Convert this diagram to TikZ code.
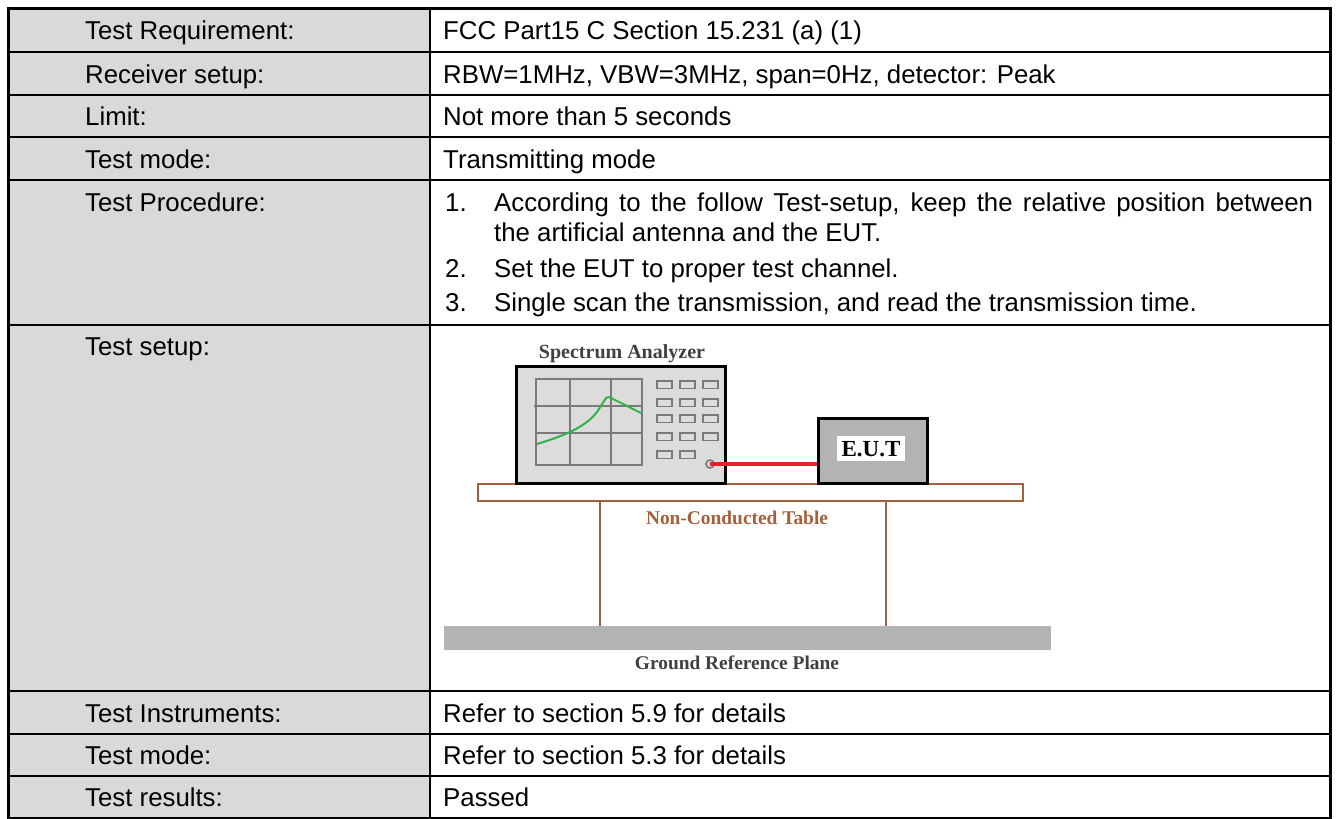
\documentclass[tikz,border=0pt]{standalone}
\usepackage{fontspec}
\setmainfont{Liberation Sans}
\newfontfamily\serifb{Liberation Serif}
\definecolor{labelgray}{HTML}{D9D9D9}
\definecolor{boxgray}{HTML}{DCDCDC}
\definecolor{darkgray}{HTML}{B3B3B3}
\definecolor{gridgray}{HTML}{7A7A7A}
\definecolor{tablebrown}{HTML}{A5603B}
\definecolor{txtgray}{HTML}{404040}
\definecolor{curvegreen}{HTML}{2FB24A}
\definecolor{cablered}{HTML}{E8202A}
\tikzset{
  cell/.style={inner sep=0pt, anchor=base west, font=\fontsize{25.8}{30}\selectfont},
  diag/.style={inner sep=0pt, anchor=base, font=\serifb\bfseries\fontsize{19.4}{22}\selectfont},
  btn/.style={draw=gridgray, line width=1.6pt, fill=boxgray},
  gridline/.style={draw=gridgray, line width=2pt},
  brown/.style={draw=tablebrown, line width=2pt}
}
\begin{document}
\begin{tikzpicture}[x=1pt,y=-1pt]
\useasboundingbox (0,0) rectangle (1336,819);
% table background
\fill[labelgray] (8,8) rectangle (430,818);
% inner lines
\foreach \yy in {52,95,137,180,325,691,734,776}
  \draw[line width=2pt] (8,\yy) -- (1330,\yy);
\draw[line width=2pt] (430,8) -- (430,818);
\draw[line width=3pt] (8,8) rectangle (1330,818);
% left labels
\node[cell] (l1) at (85,39.3) {Test Requirement:};
\node[cell] (l2) at (85,83) {Receiver setup:};
\node[cell] (l3) at (85,125.5) {Limit:};
\node[cell] (l4) at (85,168) {Test mode:};
\node[cell] (l5) at (85,211) {Test Procedure:};
\node[cell] (l6) at (85,355) {Test setup:};
\node[cell] (l7) at (85,722) {Test Instruments:};
\node[cell] (l8) at (85,764.5) {Test mode:};
\node[cell] (l9) at (85,806.5) {Test results:};
% right texts
\node[cell] (r1) at (443,39.3) {FCC Part15 C Section 15.231 (a) (1)};
\node[cell] (r2) at (443,83) {RBW=1MHz, VBW=3MHz, span=0Hz, detector: Peak};
\node[cell] (r3) at (443,125.5) {Not more than 5 seconds};
\node[cell] (r4) at (443,168) {Transmitting mode};
\node[cell] (n1) at (445,211) {1.};
\node[cell] (p1a) at (494,211) {\makebox[819pt][s]{According to the follow Test-setup, keep the relative position between}};
\node[cell] (p1b) at (494,241) {the artificial antenna and the EUT.};
\node[cell] (n2) at (445,277) {2.};
\node[cell] (p2) at (494,277) {Set the EUT to proper test channel.};
\node[cell] (n3) at (445,311) {3.};
\node[cell] (p3) at (494,311) {Single scan the transmission, and read the transmission time.};
\node[cell] (r7) at (443,722) {Refer to section 5.9 for details};
\node[cell] (r8) at (443,764.5) {Refer to section 5.3 for details};
\node[cell] (r9) at (443,806.5) {Passed};
% ---- test setup diagram ----
% ground plane
\fill[darkgray] (444,626) rectangle (1051,650);
% table legs and top
\draw[brown] (600,501) -- (600,626);
\draw[brown] (886,501) -- (886,626);
\draw[brown, fill=white] (478,484) rectangle (1023,501);
% spectrum analyzer
\draw[line width=3pt, fill=boxgray] (516,366) rectangle (725,483);
\draw[gridline] (536,379) rectangle (642,465);
\draw[gridline] (570,379) -- (570,465);
\draw[gridline] (611,379) -- (611,465);
\draw[gridline] (534,406) -- (642,406);
\draw[gridline] (536,433) -- (642,433);
\draw[draw=curvegreen, line width=2pt, line join=round]
  (537,444) .. controls (560,437) and (585,428) .. (597,412)
  -- (606,398) -- (609,397) -- (641,413);
% buttons
\foreach \yy in {381,399,415,433}
  \foreach \xx in {657,680,703}
    \draw[btn] (\xx,\yy) rectangle ++(15,7.5);
\foreach \xx in {657,680}
  \draw[btn] (\xx,451) rectangle ++(15,7.5);
\node[circle, draw=gridgray, line width=1.6pt, fill=boxgray, minimum size=8pt, inner sep=0pt] (port) at (710,464) {};
% EUT
\node[draw, line width=2.5pt, fill=darkgray, minimum width=109pt, minimum height=65pt, inner sep=0pt, anchor=north west] (eut) at (817,417) {};
\node[fill=white, minimum width=68pt, minimum height=25pt, inner sep=0pt] (eutlabel) at (871,448.5) {};
\node[diag, font=\serifb\bfseries\fontsize{23}{26}\selectfont] (euttext) at (871,456.5) {E.U.T};
% cable
\draw[cablered, line width=4pt] (port.center) -- (eut.west |- port.center);
% labels
\node[diag, text=txtgray, font=\serifb\bfseries\fontsize{20}{24}\selectfont] (sa) at (622,358) {Spectrum Analyzer};
\node[diag, text=tablebrown] (nct) at (737,524.5) {Non-Conducted Table};
\node[diag, text=txtgray] (grp) at (737,669.5) {Ground Reference Plane};
\end{tikzpicture}
\end{document}
